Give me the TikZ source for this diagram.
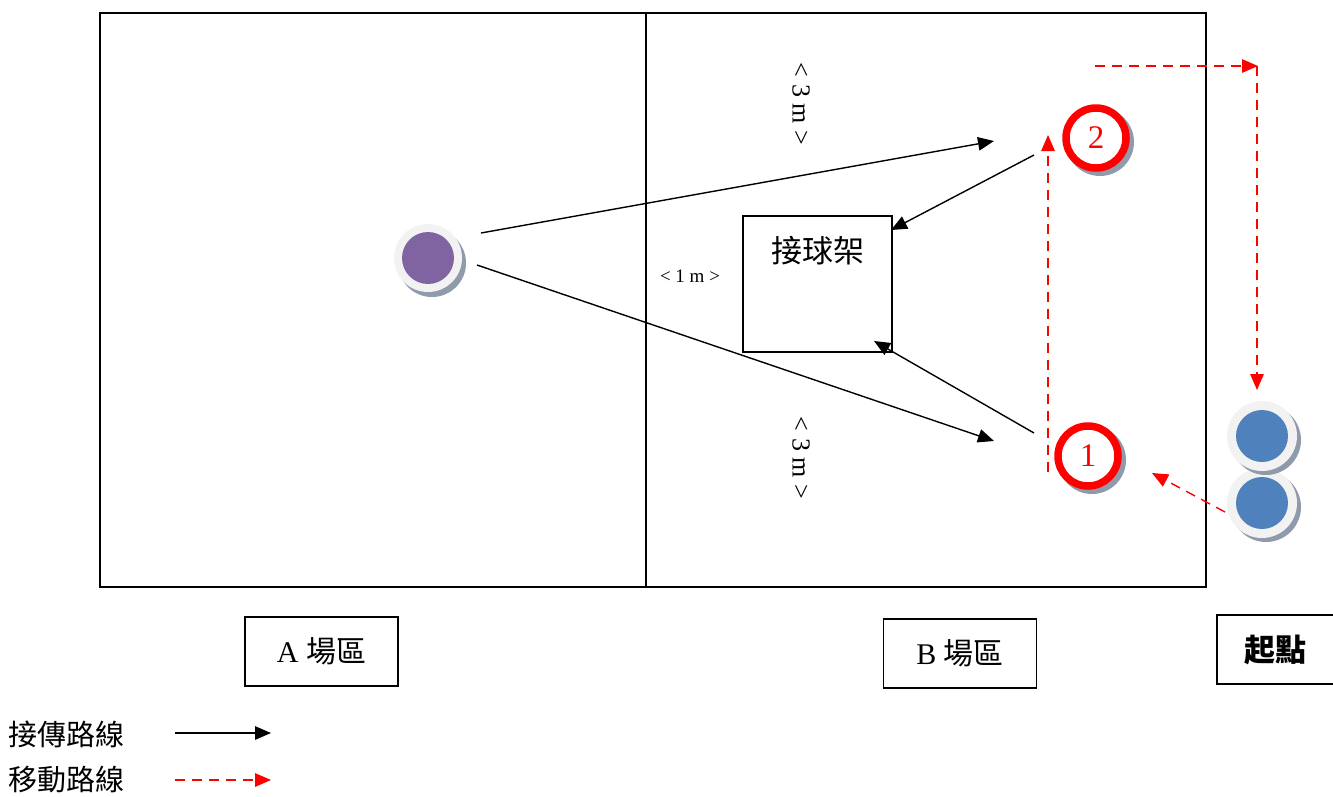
\documentclass[tikz,border=0pt]{standalone}
\usepackage{fontspec}
\setmainfont{Liberation Serif}
\newfontfamily\cjk{Noto Sans CJK TC}
\usetikzlibrary{arrows.meta}
\definecolor{purp}{HTML}{8064A2}
\definecolor{blu}{HTML}{4F81BD}
\definecolor{ring}{HTML}{F2F2F2}
\definecolor{shad}{HTML}{8F9AAA}
\tikzset{
  tip/.style={-{Triangle[length=16pt,width=13.5pt]}},
  pass/.style={tip, line width=1.4pt, black},
  move/.style={tip, line width=1.4pt, red, dash pattern=on 10pt off 7pt},
  labelbox/.style={draw, line width=1.2pt, inner sep=0pt, minimum width=153pt, minimum height=69pt, font=\fontsize{30}{34}\selectfont},
  dim/.style={font=\fontsize{26}{28}\selectfont, rotate=-90},
  shadowc/.style={circle, fill=shad, inner sep=0pt, minimum size=#1},
  outerc/.style={circle, fill=ring, inner sep=0pt, minimum size=#1},
  innerc/.style={circle, inner sep=0pt, minimum size=#1},
  numc/.style={circle, draw=red, line width=7.5pt, fill=white, inner sep=0pt, minimum size=60pt, text=red, font=\fontsize{33}{35}\selectfont},
}
\begin{document}
\begin{tikzpicture}[x=1pt,y=-1pt]
\useasboundingbox (0,0) rectangle (1333,796);
% field
\draw[line width=1.5pt] (100,13) rectangle (1206,587);
\draw[line width=1.5pt] (646,13) -- (646,587);

% purple player
\node[shadowc=68pt] at (432,263) {};
\node[outerc=68pt] (pA) at (428,258) {};
\node[innerc=52pt, fill=purp] at (pA) {};

% ball rack
\node[draw, line width=1.3pt, minimum width=149pt, minimum height=136pt, inner sep=0pt] (rack) at (817.5,284) {};
\node[font=\cjk\fontsize{31}{33}\selectfont] (racklbl) at (818,251) {接球架};

% dimension labels
\node[dim] (d1) at (801,104) {\textless\ 3 m \textgreater};
\node[dim] (d2) at (801,458) {\textless\ 3 m \textgreater};
\node[font=\fontsize{19}{21}\selectfont] (d3) at (690,276) {\textless\ 1 m \textgreater};

% numbered spots
\node[shadowc=68pt] at (1100,142) {};
\node[numc] (n2) at (1096,138) {2};
\node[shadowc=68pt] at (1092,460) {};
\node[numc] (n1) at (1088,456) {1};

% blue players
\node[shadowc=70pt] at (1266,507) {};
\node[outerc=70pt] (b2) at (1262,503) {};
\node[innerc=52pt, fill=blu] at (b2) {};
\node[shadowc=70pt] at (1266,440) {};
\node[outerc=70pt] (b1) at (1262,436) {};
\node[innerc=52pt, fill=blu] at (b1) {};

% pass coordinates
\coordinate (p1s) at (481,233);
\coordinate (p1e) at (994,141);
\coordinate (p2s) at (477,265);
\coordinate (p2e) at (994,441);
\coordinate (r1s) at (1034,155);
\coordinate (r1e) at (891,230);
\coordinate (r2s) at (1034,433);
\coordinate (r2e) at (874,341);
\draw[pass] (p1s) -- (p1e);
\draw[pass] (p2s) -- (p2e);
\draw[pass] (r1s) -- (r1e);
\draw[pass] (r2s) -- (r2e);

% move paths
\coordinate (m1s) at (1048,472);
\coordinate (m1e) at (1048,135);
\coordinate (m2s) at (1095,66);
\coordinate (m2e) at (1258,66);
\coordinate (m3s) at (1257,66);
\coordinate (m3e) at (1257,390);
\coordinate (m4s) at (1225,512);
\coordinate (m4e) at (1152,473);
\draw[move] (m1s) -- (m1e);
\draw[move] (m2s) -- (m2e);
\draw[move] (m3s) -- (m3e);
\draw[move] (m4s) -- (m4e);

% area labels
\node[labelbox] (A) at (321.5,651.5) {A {\cjk 場區}};
\node[labelbox] (B) at (960,653.5) {B {\cjk 場區}};
\node[labelbox, minimum width=123pt, font=\cjk\bfseries\fontsize{31}{33}\selectfont] (S) at (1278.5,649.5) {\hspace*{-6pt}起點};

% legend
\node[font=\cjk\fontsize{29}{32}\selectfont, anchor=west] (L1) at (5,734) {接傳路線};
\node[font=\cjk\fontsize{29}{32}\selectfont, anchor=west] (L2) at (5,780) {移動路線};
\coordinate (l1s) at (175,733);
\coordinate (l1e) at (271,733);
\coordinate (l2s) at (175,780);
\coordinate (l2e) at (271,780);
\draw[pass] (l1s) -- (l1e);
\draw[move] (l2s) -- (l2e);
\end{tikzpicture}
\end{document}
